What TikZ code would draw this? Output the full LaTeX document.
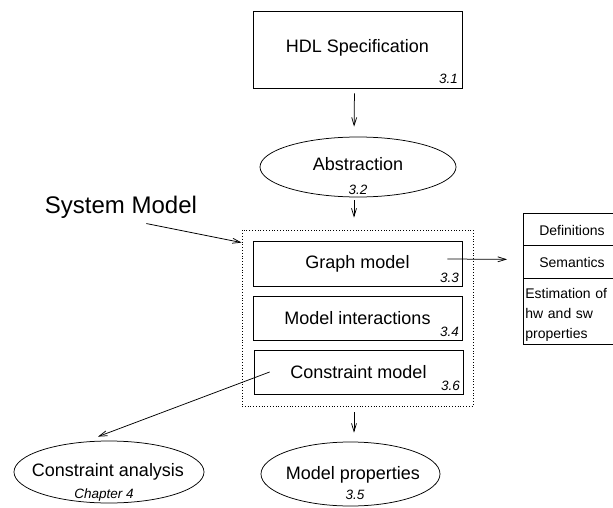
\documentclass[tikz,border=0pt]{standalone}
\usepackage{fontspec}
\setmainfont{Liberation Sans}
\usetikzlibrary{arrows.meta,calc,shapes.geometric}
\begin{document}
\begin{tikzpicture}[x=1pt,y=-1pt,line width=0.75pt,
  arr/.style={-{Straight Barb[length=8pt,width=5pt]}},
  blk/.style={draw,rectangle,inner sep=0pt,font=\fontsize{18}{20}\selectfont},
  oval/.style={draw,ellipse,inner sep=0pt,font=\fontsize{18}{20}\selectfont},
  num/.style={font=\fontsize{13.5}{15}\selectfont\itshape,inner sep=0pt},
  cell/.style={font=\fontsize{14}{17}\selectfont,inner sep=0pt}]
\useasboundingbox (0,0) rectangle (613,508);

% specification and abstraction
\node[blk,minimum width=209pt,minimum height=77pt] (hdl) at (357.5,49.5) {};
\node at (357.5,48) [font=\fontsize{18}{20}\selectfont] (hdlt) {HDL Specification};
\node[num,anchor=south east] (n31) at ($(hdl.south east)+(-4,-4)$) {3.1};

\node[oval,minimum width=196pt,minimum height=60pt] (abs) at (358,167) {};
\node[font=\fontsize{18}{20}\selectfont] (abst) at (358,164) {Abstraction};
\node[num] (n32) at (358,190) {3.2};

% system model container
\node[draw,dotted,line width=0.8pt,minimum width=231pt,minimum height=176pt,inner sep=0pt] (sys) at (357.5,318) {};
\node[blk,minimum width=209pt,minimum height=45pt] (graph) at (357.5,263.5) {Graph model};
\node[num,anchor=south east] (n33) at ($(graph.south east)+(-3,-3)$) {3.3};
\node[blk,minimum width=209pt,minimum height=44pt] (inter) at (357.5,318) {Model interactions};
\node[num,anchor=south east] (n34) at ($(inter.south east)+(-3,-3)$) {3.4};
\node[blk,minimum width=209pt,minimum height=44pt] (cons) at (358.5,372) {Constraint model};
\node[num,anchor=south east] (n36) at ($(cons.south east)+(-3,-3)$) {3.6};

\node[font=\fontsize{24}{26}\selectfont,inner sep=0pt] (sysm) at (121,207) {System Model};

% results
\node[oval,minimum width=190pt,minimum height=62pt] (ca) at (109,472) {};
\node[font=\fontsize{18}{20}\selectfont] (cat) at (108,472) {Constraint analysis};
\node[num] (nch) at (104,495) {Chapter 4};

\node[oval,minimum width=179pt,minimum height=64pt] (mp) at (350.5,474) {};
\node[font=\fontsize{18}{20}\selectfont] (mpt) at (353,475) {Model properties};
\node[num] (n35) at (355,495) {3.5};

% graph model details (the table runs on past the right edge)
\node[draw,rectangle,minimum width=100pt,minimum height=32pt,inner sep=0pt,anchor=north west] (defs) at (523,213) {};
\node[cell] (defst) at (572,230) {Definitions};
\node[draw,rectangle,minimum width=100pt,minimum height=33pt,inner sep=0pt,anchor=north west] (sem) at (523,245) {};
\node[cell] (semt) at (572,262) {Semantics};
\node[draw,rectangle,minimum width=100pt,minimum height=66pt,inner sep=0pt,anchor=north west] (est) at (523,278) {};
\node[cell,anchor=north west,align=left,text width=90pt,font=\fontsize{14}{20}\selectfont] (estt) at (525,288) {Estimation of\\hw and sw\\properties};

% connectors
\draw[arr,shorten <=5pt,shorten >=10pt] ($(hdl.south)+(-3,0)$) -- ($(abs.north)+(-4,0)$);
\draw[arr,shorten <=3pt,shorten >=12pt] ($(abs.south)+(-4,0)$) -- ($(sys.north)+(-3.5,0)$);
\draw[arr,shorten <=6pt,shorten >=9pt] ($(sys.south)+(-3.5,0)$) -- ($(mp.north)+(3.5,0)$);
\coordinate (gstart) at ($(graph.east)+(-15,-4.5)$);
\coordinate (gend) at ($(sem.west)+(-16,-2.5)$);
\draw[arr] (gstart) -- (gend);
\coordinate (cstart) at ($(cons.west)+(16,0)$);
\coordinate (cend) at ($(ca.north)+(-11,-4)$);
\draw[arr] (cstart) -- (cend);
\coordinate (sstart) at ($(sysm.south east)+(-51,5)$);
\coordinate (send) at ($(sys.north west)+(0,13)$);
\draw[arr] (sstart) -- (send);
\end{tikzpicture}
\end{document}
